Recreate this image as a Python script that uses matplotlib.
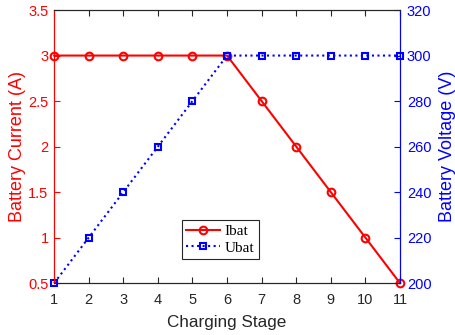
import matplotlib.pyplot as plt
from matplotlib.lines import Line2D

# data
stage = [1, 2, 3, 4, 5, 6, 7, 8, 9, 10, 11]
ibat = [3, 3, 3, 3, 3, 3, 2.5, 2, 1.5, 1, 0.5]
ubat = [200, 220, 240, 260, 280, 300, 300, 300, 300, 300, 300]

plt.rcParams['font.family'] = ['Liberation Sans', 'DejaVu Sans']
plt.rcParams['font.size'] = 10

fig = plt.figure(figsize=(4.55, 3.35), dpi=100)
ax = fig.add_axes([0.119, 0.155, 0.76, 0.815])
ax2 = ax.twinx()

ax.plot(stage, ibat, color='red', lw=1.5, marker='o', ms=5.5, mfc='none', mew=1.5, clip_on=False, zorder=3)
ax2.plot(stage, ubat, color='blue', lw=1.5, ls=':', marker='s', ms=5, mfc='none', mew=1.5, clip_on=False)

ax.set_xlim(1, 11)
ax.set_xticks(stage)
ax.set_ylim(0.5, 3.5)
ax.set_yticks([0.5, 1, 1.5, 2, 2.5, 3, 3.5])
ax.set_yticklabels(['0.5', '1', '1.5', '2', '2.5', '3', '3.5'])
ax2.set_ylim(200, 320)
ax2.set_yticks(range(200, 321, 20))

ax.set_xlabel('Charging Stage', color='#262626', fontsize=12.3)
ax.set_ylabel('Battery Current (A)', color='red', fontsize=13)
ax2.set_ylabel('Battery Voltage (V)', color='blue', fontsize=13)
ax.xaxis.set_label_coords(0.5, -0.117)
ax.yaxis.set_label_coords(-0.08, 0.5)
ax2.yaxis.set_label_coords(1.112, 0.5)

ax.tick_params(axis='x', direction='in', top=True, colors='#262626', length=4, labelsize=10.5, pad=7)
ax.tick_params(axis='y', direction='in', colors='red', length=4, labelsize=10.5, pad=4)
ax2.tick_params(axis='y', direction='in', colors='blue', length=4, labelsize=10.5, pad=5)

for a in (ax, ax2):
    a.spines['top'].set_color('#262626')
    a.spines['bottom'].set_color('#262626')
    a.spines['left'].set_color('red')
    a.spines['right'].set_color('blue')

handles = [
    Line2D([], [], color='red', lw=1.5, marker='o', ms=5.5, mfc='none', mew=1.5),
    Line2D([], [], color='blue', lw=1.5, ls=':', marker='s', ms=5, mfc='none', mew=1.5),
]
leg = ax2.legend(handles, ['Ibat', 'Ubat'], loc='center', bbox_to_anchor=(0.48, 0.16),
                 prop={'family': 'Liberation Serif', 'size': 11}, fancybox=False,
                 framealpha=1, edgecolor='#262626', handlelength=2.2, handletextpad=0.3,
                 borderpad=0.3, labelspacing=0.2)
leg.get_frame().set_linewidth(0.8)

fig.savefig('out.png', dpi=100)
